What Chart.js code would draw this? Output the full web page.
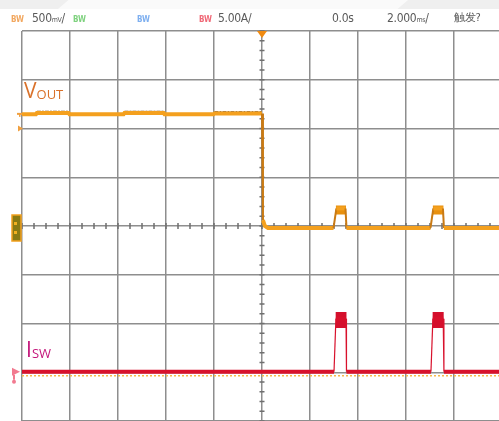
<!DOCTYPE html>
<html>
<head>
<meta charset="utf-8">
<script src="https://cdn.jsdelivr.net/npm/chart.js@4.4.1/dist/chart.umd.min.js"></script>
<style>
    html, body { margin: 0; padding: 0; background: #fff; }
    #wrap { position: relative; width: 499px; height: 421px; overflow: hidden; background: #fff; }
    #chart { position: absolute; left: 0; top: 0; }
    #band { position: absolute; left: 0; top: 0; width: 499px; height: 9px; background: #efefef; }
    #band2 { position: absolute; left: 58px; top: 0; width: 350px; height: 9px; background: #fafafa;
             clip-path: polygon(3% 0, 100% 0, 97% 100%, 0 100%); }
    .hd { position: absolute; top: 11px; font-family: "DejaVu Sans Condensed", "DejaVu Sans", sans-serif;
          font-size: 12px; line-height: 14px; color: #5a5a5a; white-space: nowrap; letter-spacing: -0.3px; }
    .hd small { font-size: 7px; }
    .bw { top: 13px; font-size: 8px; font-weight: bold; letter-spacing: 0; }
    .lbl { position: absolute; font-family: "Open Sans", "Noto Sans", sans-serif; white-space: nowrap; }
    .lbl sub { font-size: 13px; vertical-align: baseline; position: relative; top: 1px; }
</style>
</head>
<body>
<div id="wrap">
    <canvas id="chart" width="499" height="421"></canvas>
    <div id="band"></div><div id="band2"></div>
    <div class="hd bw" style="left:11px;color:#f2a860">BW</div>
    <div class="hd" style="left:32px">500<small>mV</small>/</div>
    <div class="hd bw" style="left:73px;color:#7fd27f">BW</div>
    <div class="hd bw" style="left:137px;color:#7fb0f0">BW</div>
    <div class="hd bw" style="left:199px;color:#f06a78">BW</div>
    <div class="hd" style="left:218px">5.00A/</div>
    <div class="hd" style="left:332px">0.0s</div>
    <div class="hd" style="left:387px">2.000<small>ms</small>/</div>
    <div class="hd" style="left:454px;font-size:11px">触发?</div>
    <div class="lbl" style="left:24px;top:76px;font-size:21px;color:#d9712a">V<sub>OUT</sub></div>
    <div class="lbl" style="left:26px;top:335px;font-size:21px;color:#c4157a">I<sub>SW</sub></div>
</div>
<script>
    // time in ms (2 ms/div, trigger at 0), levels in divisions from screen centre
    const voutTime = [-10, -9.42, -9.38, -8.06, -8.02, -5.77, -5.73, -4.1, -4.06, -2.02, -1.98, 0, 0.04, 0.12, 0.25,
                      2.98, 3.1, 3.48, 3.52, 7.02, 7.14, 7.54, 7.58, 9.875];
    const voutLevel = [2.29, 2.29, 2.32, 2.32, 2.29, 2.29, 2.32, 2.32, 2.29, 2.29, 2.31, 2.31, 0.12, 0.0, -0.04,
                       -0.04, 0.36, 0.36, -0.04, -0.04, 0.36, 0.36, -0.04, -0.04];
    const voutNoiseTime = [-9.38, -8.06, null, -5.73, -4.1, null, -1.98, -0.02];
    const voutNoiseLevel = [2.35, 2.35, null, 2.35, 2.35, null, 2.34, 2.34];
    const voutTopTime = [3.08, 3.5, null, 7.12, 7.56];
    const voutTopLevel = [0.33, 0.33, null, 0.33, 0.33];

    const iswTime = [-10, 3.0, 3.08, 3.5, 3.52, 7.04, 7.12, 7.55, 7.58, 9.875];
    const iswLevel = [-2.99, -2.99, -1.9, -1.9, -2.99, -2.99, -1.9, -1.9, -2.99, -2.99];
    const iswTopTime = [3.07, 3.52, null, 7.11, 7.57];
    const iswTopLevel = [-1.93, -1.93, null, -1.93, -1.93];
    const iswFloorTime = [-10, 9.875];
    const iswFloorLevel = [-3.07, -3.07];

    const xTicks = [-10, -8, -6, -4, -2, 0, 2, 4, 6, 8];

    function pts(t, v) {
        let out = [];
        for (let i = 0; i < t.length; i++) {
            out.push(t[i] === null ? { x: NaN, y: null } : { x: t[i], y: v[i] });
        }
        return out;
    }

    function steep(ctx) {
        return Math.abs(ctx.p1.parsed.y - ctx.p0.parsed.y) > 0.15;
    }

    const scopeMarks = {
        id: 'scopeMarks',
        beforeDatasetsDraw: chart => {
            const c = chart.ctx;
            const x = chart.scales.x;
            const y = chart.scales.y;
            const x0 = x.getPixelForValue(0);
            const y0 = y.getPixelForValue(0);
            c.save();
            c.strokeStyle = '#6f6f6f';
            c.lineWidth = 1.5;
            c.beginPath();
            for (let v = -4; v <= 4.001; v += 0.2) {
                let py = y.getPixelForValue(v);
                c.moveTo(x0 - 2.5, py);
                c.lineTo(x0 + 2.5, py);
            }
            for (let t = -10; t <= 9.9; t += 0.5) {
                let px = x.getPixelForValue(t);
                c.moveTo(px, y0 - 3);
                c.lineTo(px, y0 + 3);
            }
            c.stroke();
            c.restore();
        },
        afterDraw: chart => {
            const c = chart.ctx;
            const x = chart.scales.x;
            const y = chart.scales.y;
            const x0 = x.getPixelForValue(0);
            const top = chart.chartArea.top;
            c.save();
            // trigger position
            c.fillStyle = '#f08a10';
            c.beginPath();
            c.moveTo(x0 - 5, top);
            c.lineTo(x0 + 5, top);
            c.lineTo(x0, top + 7);
            c.closePath();
            c.fill();
            // CH1 ground marker
            let gy = y.getPixelForValue(0);
            c.fillStyle = '#8a7a12';
            c.strokeStyle = '#f2a11e';
            c.lineWidth = 1.5;
            c.fillRect(12, gy - 11, 9, 26);
            c.strokeRect(12, gy - 11, 9, 26);
            c.fillStyle = '#f2b020';
            c.fillRect(14, gy - 4, 3, 3);
            c.fillRect(14, gy + 5, 3, 3);
            // CH1 level marks
            let ty = y.getPixelForValue(2.0);
            c.fillStyle = '#f0a040';
            c.beginPath();
            c.moveTo(18, ty - 3);
            c.lineTo(23, ty);
            c.lineTo(18, ty + 3);
            c.closePath();
            c.fill();
            let hy = y.getPixelForValue(2.3);
            c.fillRect(17, hy - 1, 5, 2);
            c.fillRect(19, hy, 1.5, 3);
            // CH4 marker
            let ry = y.getPixelForValue(-2.99);
            c.fillStyle = '#f27a90';
            c.beginPath();
            c.moveTo(12, ry - 4);
            c.lineTo(20, ry);
            c.lineTo(12, ry + 4);
            c.closePath();
            c.fill();
            c.fillRect(13, ry + 3, 2, 5);
            c.beginPath();
            c.arc(14, ry + 10, 2, 0, Math.PI * 2);
            c.fill();
            c.restore();
        }
    };

    const chart = new Chart(document.getElementById('chart'), {
        type: 'line',
        data: {
            datasets: [
                {
                    label: 'ISW floor',
                    data: pts(iswFloorTime, iswFloorLevel),
                    borderColor: '#f6b84a',
                    borderWidth: 1.5,
                    borderDash: [2, 2],
                    pointRadius: 0
                },
                {
                    label: 'VOUT',
                    data: pts(voutTime, voutLevel),
                    borderColor: '#f4a01e',
                    borderWidth: 4,
                    pointRadius: 0,
                    segment: {
                        borderWidth: ctx => steep(ctx) ? 2 : 4,
                        borderColor: ctx => steep(ctx) ? '#c97a14' : '#f4a01e'
                    }
                },
                {
                    label: 'VOUT noise',
                    data: pts(voutNoiseTime, voutNoiseLevel),
                    borderColor: '#6b4210',
                    borderWidth: 1.5,
                    borderDash: [4, 1, 2, 1],
                    pointRadius: 0,
                    spanGaps: false
                },
                {
                    label: 'VOUT top',
                    data: pts(voutTopTime, voutTopLevel),
                    borderColor: '#e8900e',
                    borderWidth: 9,
                    borderCapStyle: 'butt',
                    pointRadius: 0,
                    spanGaps: false
                },
                {
                    label: 'VOUT ripple',
                    data: pts(voutTopTime, voutTopLevel),
                    borderColor: '#6a3a08',
                    borderWidth: 2,
                    borderCapStyle: 'butt',
                    pointRadius: 0,
                    spanGaps: false
                },
                {
                    label: 'ISW',
                    data: pts(iswTime, iswLevel),
                    borderColor: '#d8112c',
                    borderWidth: 4,
                    pointRadius: 0,
                    segment: {
                        borderWidth: ctx => steep(ctx) ? 1.2 : 4
                    }
                },
                {
                    label: 'ISW top',
                    data: pts(iswTopTime, iswTopLevel),
                    borderColor: '#d40f2c',
                    borderWidth: 16,
                    borderCapStyle: 'butt',
                    pointRadius: 0,
                    spanGaps: false
                }
            ]
        },
        options: {
            responsive: false,
            animation: false,
            events: [],
            spanGaps: false,
            layout: { padding: { left: 22, top: 31, right: 0, bottom: 0 } },
            plugins: {
                legend: { display: false },
                tooltip: { enabled: false }
            },
            scales: {
                x: {
                    type: 'linear',
                    min: -10,
                    max: 9.875,
                    afterBuildTicks: axis => {
                        axis.ticks = xTicks.map(v => ({ value: v }));
                    },
                    ticks: { display: false },
                    border: { display: false },
                    grid: { color: '#8e8e8e', lineWidth: 1.5, drawTicks: false }
                },
                y: {
                    type: 'linear',
                    min: -4,
                    max: 4,
                    ticks: { display: false, stepSize: 1 },
                    border: { display: false },
                    grid: { color: '#8e8e8e', lineWidth: 1.5, drawTicks: false }
                }
            }
        },
        plugins: [scopeMarks]
    });
</script>
</body>
</html>
